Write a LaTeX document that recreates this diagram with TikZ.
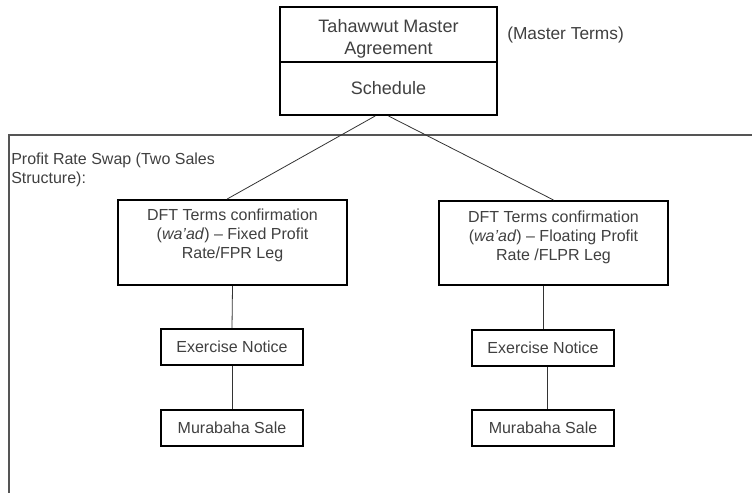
\documentclass[tikz,border=0pt]{standalone}
\usepackage{fontspec}
\setmainfont{Liberation Sans}
\usepackage{tikz}
\usetikzlibrary{shapes,arrows}
\definecolor{txtgray}{RGB}{64,64,64}
\definecolor{framegray}{RGB}{85,85,85}

\begin{document}
\begin{tikzpicture}[x=0.75pt,y=0.75pt,yscale=-1,xscale=1,
    box/.style={draw=black,line width=1.5pt,fill=white,inner sep=0pt,text=txtgray,align=center},
    txt/.style={inner sep=0pt,text=txtgray,align=center},
    bigtxt/.style={font=\fontsize{13.5}{16.5}\selectfont},
    smalltxt/.style={font=\fontsize{12}{14.25}\selectfont},
    link/.style={draw=black!80,line width=0.6pt}]
    %set diagram left start at 0, and has height of 493
    \path[use as bounding box] (0,0) rectangle (752,493);

    %Straight Lines (frame of the swap)
    \draw[framegray,line width=1.2pt] (752,135) -- (9,135) -- (9,493);

    %Shape: Rectangle (master agreement)
    \node[box,minimum width=162.75pt,minimum height=41.25pt] (master) at (388.5,34.5) {};
    %Shape: Rectangle (schedule)
    \node[box,bigtxt,minimum width=162.75pt,minimum height=39.75pt] (sched) at (388.5,88.5) {Schedule};

    %Shape: Rectangle (fixed leg)
    \node[box,minimum width=171.75pt,minimum height=63.75pt] (fixleg) at (232.5,242.5) {};
    %Shape: Rectangle (floating leg)
    \node[box,minimum width=171.75pt,minimum height=63pt] (floatleg) at (553.5,243) {};

    %Shape: Rectangle (exercise notices)
    \node[box,smalltxt,minimum width=106.5pt,minimum height=27pt] (fixex) at (232,347) {Exercise Notice};
    \node[box,smalltxt,minimum width=106.5pt,minimum height=27pt] (floatex) at (543,348) {Exercise Notice};
    %Shape: Rectangle (murabaha sales)
    \node[box,smalltxt,minimum width=106.5pt,minimum height=27pt] (fixsale) at (232,428) {Murabaha Sale};
    \node[box,smalltxt,minimum width=106.5pt,minimum height=27pt] (floatsale) at (543,428) {Murabaha Sale};

    %Straight Lines
    \draw[link] ([xshift=-10pt]sched.south) -- ([xshift=-4pt]fixleg.north);
    %Straight Lines
    \draw[link] (sched.south) -- (floatleg.north);
    %Straight Lines
    \draw[link] (fixleg.south) -- (fixex.north);
    %Straight Lines
    \draw[link] (fixex.south) -- (fixsale.north);
    %Straight Lines
    \draw[link] (floatex.north |- floatleg.south) -- (floatex.north);
    %Straight Lines
    \draw[link] ([xshift=3pt]floatex.south) -- ([xshift=3pt]floatsale.north);

    % Text Node
    \node[txt,bigtxt] (mastertxt) at (388.5,38.5) {Tahawwut Master\\Agreement};
    % Text Node
    \node[txt,anchor=west,font=\fontsize{13}{15}\selectfont] (termstxt) at (507,35) {(Master Terms)};
    % Text Node
    \node[txt,smalltxt,anchor=north west,align=left] (swaptxt) at (11,153) {Profit Rate Swap (Two Sales\\Structure):};
    % Text Node
    \node[txt,smalltxt,anchor=north] (fixtxt) at (232.5,209) {DFT Terms confirmation\\(\textit{wa'ad}) -- Fixed Profit\\Rate/FPR Leg};
    % Text Node
    \node[txt,smalltxt,anchor=north] (floattxt) at (553.5,211) {DFT Terms confirmation\\(\textit{wa'ad}) -- Floating Profit\\Rate /FLPR Leg};

\end{tikzpicture}
\end{document}
